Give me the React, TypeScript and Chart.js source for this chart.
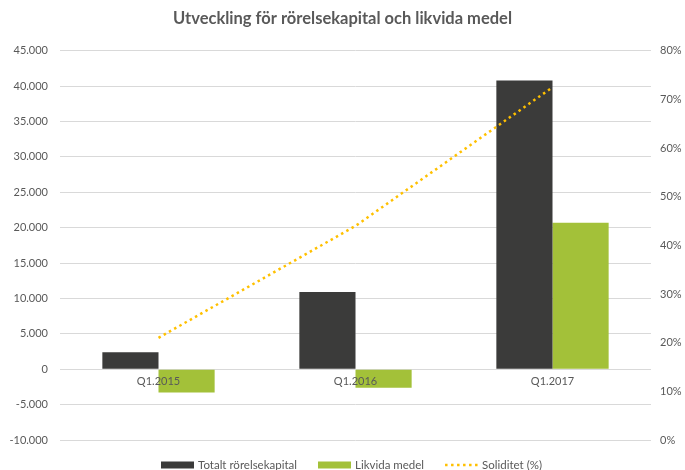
import React, { useEffect, useRef } from "react";
import { Chart, registerables } from "chart.js";
Chart.register(...registerables);

const categories = ["Q1.2015", "Q1.2016", "Q1.2017"];
const totaltRorelsekapital = [2400, 10900, 40800];
const likvidaMedel = [-3300, -2600, 20700];
const soliditet = [21, 44, 72.5];
const seriesNames = ["Totalt rörelsekapital", "Likvida medel", "Soliditet (%)"];
const titleText = "Utveckling för rörelsekapital och likvida medel";

const FONT = "Lato, 'Liberation Sans', sans-serif";
const TEXT = "#595959";
const DARK = "#3b3b3a";
const GREEN = "#a3c139";
const GOLD = "#ffc000";
const DASH = [2.5, 3.5];

function fmtThousands(v: number): string {
  const neg = v < 0;
  const s = Math.abs(Math.round(v)).toString().replace(/\B(?=(\d{3})+(?!\d))/g, ".");
  return (neg ? "-" : "") + s;
}

// category labels drawn on top of the bars, just below the zero line
const categoryLabelPlugin = {
  id: "categoryLabels",
  afterDatasetsDraw(chart: any) {
    const ctx = chart.ctx as CanvasRenderingContext2D;
    const xs = chart.scales.x;
    const ys = chart.scales.y;
    const y0 = ys.getPixelForValue(0);
    ctx.save();
    ctx.font = `11px ${FONT}`;
    ctx.fillStyle = TEXT;
    ctx.textAlign = "center";
    ctx.textBaseline = "middle";
    categories.forEach((c, i) => {
      ctx.fillText(c, xs.getPixelForValue(i), y0 + 12);
    });
    ctx.restore();
  },
};

const legendPlugin = {
  id: "customLegend",
  afterDraw(chart: any) {
    const ctx = chart.ctx as CanvasRenderingContext2D;
    const items = [
      { text: seriesNames[0], kind: "box", color: DARK },
      { text: seriesNames[1], kind: "box", color: GREEN },
      { text: seriesNames[2], kind: "line", color: GOLD },
    ];
    const boxW = 33, gap = 4, itemGap = 21;
    ctx.save();
    ctx.font = `11.5px ${FONT}`;
    const widths = items.map((it) => boxW + gap + ctx.measureText(it.text).width);
    const total = widths.reduce((a, b) => a + b, 0) + itemGap * (items.length - 1);
    let x = chart.width / 2 + 9 - total / 2;
    const y = chart.height - 5;
    items.forEach((it, i) => {
      if (it.kind === "box") {
        ctx.fillStyle = it.color;
        ctx.fillRect(x, y - 3.5, boxW, 7);
      } else {
        ctx.strokeStyle = it.color;
        ctx.lineWidth = 2.5;
        ctx.setLineDash(DASH);
        ctx.beginPath();
        ctx.moveTo(x, y);
        ctx.lineTo(x + boxW, y);
        ctx.stroke();
        ctx.setLineDash([]);
      }
      ctx.fillStyle = TEXT;
      ctx.textBaseline = "middle";
      ctx.textAlign = "left";
      ctx.fillText(it.text, x + boxW + gap, y);
      x += widths[i] + itemGap;
    });
    ctx.restore();
  },
};

export default function App() {
  const ref = useRef<HTMLCanvasElement | null>(null);
  useEffect(() => {
    document.body.style.margin = "0";
    if (!ref.current) return;
    const chart = new Chart(ref.current, {
      type: "bar",
      data: {
        labels: categories,
        datasets: [
          {
            type: "bar",
            label: seriesNames[0],
            data: totaltRorelsekapital,
            backgroundColor: DARK,
            yAxisID: "y",
            categoryPercentage: 0.57,
            barPercentage: 1,
            order: 1,
          },
          {
            type: "bar",
            label: seriesNames[1],
            data: likvidaMedel,
            backgroundColor: GREEN,
            yAxisID: "y",
            categoryPercentage: 0.57,
            barPercentage: 1,
            order: 1,
          },
          {
            type: "line",
            label: seriesNames[2],
            data: soliditet,
            borderColor: GOLD,
            backgroundColor: GOLD,
            borderWidth: 2.5,
            borderDash: DASH,
            pointRadius: 0,
            fill: false,
            tension: 0,
            yAxisID: "y1",
            order: 0,
          } as any,
        ],
      },
      plugins: [categoryLabelPlugin, legendPlugin],
      options: {
        responsive: false,
        animation: false,
        layout: { padding: { left: 0, right: 0, top: 0, bottom: 30 } },
        plugins: {
          title: {
            display: true,
            text: titleText,
            color: TEXT,
            font: { family: FONT, size: 16.5, weight: "bold" },
            padding: { top: 9, bottom: 22 },
          },
          legend: { display: false },
          tooltip: { enabled: false },
        },
        scales: {
          x: {
            position: { y: 0 } as any,
            grid: { display: false },
            border: { display: false },
            ticks: { display: false },
          },
          y: {
            position: "left",
            min: -10000,
            max: 45000,
            ticks: {
              stepSize: 5000,
              color: TEXT,
              font: { family: FONT, size: 11 },
              padding: 12,
              callback: (v: any) => fmtThousands(Number(v)),
            },
            grid: { color: "#d9d9d9", drawTicks: false },
            border: { display: false },
            afterFit: (s: any) => { s.width = 60; },
          },
          y1: {
            position: "right",
            min: 0,
            max: 80,
            ticks: {
              stepSize: 10,
              color: TEXT,
              font: { family: FONT, size: 11 },
              padding: 9,
              callback: (v: any) => v + "%",
            },
            grid: { display: false, drawTicks: false },
            border: { display: false },
            afterFit: (s: any) => { s.width = 34; },
          },
        },
      },
    });
    return () => chart.destroy();
  }, []);
  return (
    <div style={{ width: 685, height: 470 }}>
      <canvas ref={ref} width={685} height={470} />
    </div>
  );
}
